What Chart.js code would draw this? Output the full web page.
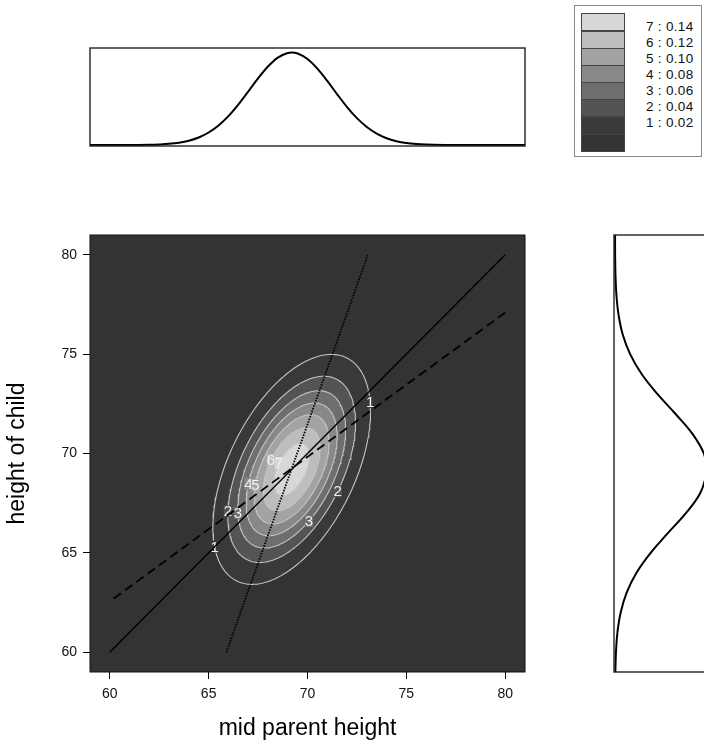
<!DOCTYPE html>
<html><head><meta charset="utf-8">
<script src="https://cdn.jsdelivr.net/npm/chart.js@4.4.1/dist/chart.umd.min.js"></script>
<style>
html,body{margin:0;padding:0;background:#fff;overflow:hidden;width:704px;height:744px;position:relative;}
canvas{position:absolute;}
#legend{position:absolute;left:574px;top:5px;width:128px;height:152px;box-sizing:border-box;border:1px solid #8a8a8a;background:#fff;font-family:'Liberation Sans',Arial,sans-serif;}
#legend .sw{position:absolute;left:6px;width:44px;box-sizing:border-box;border:1px solid #444;}
#legend .lb{position:absolute;left:71px;font-size:13.5px;letter-spacing:0.3px;color:#111;line-height:14px;white-space:nowrap;}
</style></head><body>
<canvas id="topc" width="545" height="115" style="left:0;top:40px"></canvas>
<canvas id="mainc" width="545" height="524" style="left:0;top:220px"></canvas>
<canvas id="rightc" width="120" height="456" style="left:604px;top:226px"></canvas>
<div id="legend"></div>
<script>
// ---------- data ----------
const xTicks = [60, 65, 70, 75, 80];
const yTicks = [60, 65, 70, 75, 80];
const axisMin = 59, axisMax = 81;
const xTitle = 'mid parent height';
const yTitle = 'height of child';

// bivariate normal shape (means, sds, correlation)
const meanX = 69.2, meanY = 69.2;
const sdX = 2.1, sdY = 3.05;
const rho = 0.503;

// contour levels
const levelNames = ['1', '2', '3', '4', '5', '6', '7'];
const levels = [0.02, 0.04, 0.06, 0.08, 0.10, 0.12, 0.14];
const contourHalfHeights = [5.79, 4.69, 3.96, 3.34, 2.75, 2.09, 1.32];   // vertical half extent of each contour
const labelAngles = [[0.1, 3.35], [-0.765, 3.08], [-1.243, 3.2], [2.83], [2.9], [2.385], [2.37]];
const bandColors = ['#333333', '#393939', '#545454', '#6e6e6e', '#888888', '#a3a3a3', '#bdbdbd', '#d7d7d7'];

// reference lines (x, y end points)
const identityX = [60, 80], identityY = [60, 80];
const regYonXX = [60.2, 80], regYonXY = [62.7, 77.1];
const regXonYX = [65.9, 73.05], regXonYY = [60, 80];

// marginal densities
const topX = [59,60,61,62,62.5,63,63.5,64,64.5,65,65.5,66,66.5,67,67.5,68,68.5,69,69.2,69.5,70,70.5,71,71.5,72,72.5,73,73.5,74,74.5,75,75.5,76,77,78,79,80,81];
const topDensity = [0,0,0.0001,0.0005,0.0012,0.0024,0.0048,0.0089,0.0155,0.0257,0.0403,0.0595,0.0832,0.1098,0.1370,0.1613,0.1797,0.1891,0.1900,0.1881,0.1767,0.1569,0.1317,0.1043,0.0781,0.0553,0.0371,0.0234,0.0139,0.0079,0.0042,0.0021,0.0010,0.0002,0,0,0,0];
const rightY = [59,60,61,62,63,64,65,66,67,68,69,69.2,70,71,72,73,74,75,76,77,78,79,80,81];
const rightDensity = [0.0005,0.0014,0.0035,0.0081,0.0166,0.0306,0.0507,0.0754,0.1008,0.1211,0.1305,0.1308,0.1264,0.1099,0.0858,0.0602,0.0379,0.0215,0.0109,0.0050,0.0020,0.0007,0.0002,0.0001];

// ---------- helpers ----------
const FONT = "'Liberation Sans', Arial, Helvetica, sans-serif";
const sRho = Math.sqrt(1 - rho * rho);
function contourPoint(h, t) {
  const d = h / sdY;
  return { x: meanX + d * sdX * Math.cos(t), y: meanY + h * (rho * Math.cos(t) + sRho * Math.sin(t)) };
}
function contourPath(h) {
  const pts = [];
  const n = 180;
  for (let i = 0; i <= n; i++) pts.push(contourPoint(h, 2 * Math.PI * i / n));
  return pts;
}
const pairs = (xs, ys) => xs.map((x, i) => ({ x, y: ys[i] }));

Chart.defaults.font.family = FONT;
Chart.defaults.animation = false;
Chart.defaults.events = [];
Chart.defaults.plugins.legend.display = false;
Chart.defaults.plugins.tooltip.enabled = false;

function boxPlugin(color, width) {
  return {
    id: 'box',
    afterDraw(chart) {
      const { ctx, chartArea: a } = chart;
      ctx.save();
      ctx.strokeStyle = color; ctx.lineWidth = width;
      ctx.strokeRect(a.left, a.top, a.right - a.left, a.bottom - a.top);
      ctx.restore();
    }
  };
}

// ---------- main chart ----------
const contourSets = levels.map((lv, i) => ({
  label: levelNames[i],
  data: contourPath(contourHalfHeights[i]),
  borderColor: '#c4c4c4',
  borderWidth: 1.1,
  backgroundColor: bandColors[i + 1],
  fill: 'shape',
  tension: 0,
  order: 100 - i
}));
const lineSets = [
  { label: 'identity', data: pairs(identityX, identityY), borderColor: '#000', borderWidth: 1.4, fill: false, order: 3 },
  { label: 'y on x', data: pairs(regYonXX, regYonXY), borderColor: '#000', borderWidth: 1.8, borderDash: [9, 5], fill: false, order: 2 },
  { label: 'x on y', data: pairs(regXonYX, regXonYY), borderColor: '#000', borderWidth: 1.8, borderDash: [1.5, 1.3], fill: false, order: 1 }
];

const mainDeco = {
  id: 'mainDeco',
  beforeDatasetsDraw(chart) {
    const { ctx, chartArea: a } = chart;
    ctx.save();
    ctx.fillStyle = bandColors[0];
    ctx.fillRect(a.left, a.top, a.right - a.left, a.bottom - a.top);
    ctx.restore();
  },
  afterDatasetDraw(chart, args) {
    if (args.index !== levels.length - 1) return;
    const { ctx } = chart;
    const xs = chart.scales.x, ys = chart.scales.y;
    ctx.save();
    ctx.font = '15px ' + FONT;
    ctx.textAlign = 'center';
    ctx.textBaseline = 'middle';
    levels.forEach((lv, i) => {
      labelAngles[i].forEach(t => {
        const p = contourPoint(contourHalfHeights[i], t);
        const px = xs.getPixelForValue(p.x), py = ys.getPixelForValue(p.y);
        const w = ctx.measureText(levelNames[i]).width;
        ctx.fillStyle = bandColors[i + 1];
        ctx.fillRect(px - w / 2, py - 6, w, 12);
        ctx.fillStyle = '#f2f2f2';
        ctx.fillText(levelNames[i], px, py + 1);
      });
    });
    ctx.restore();
  }
};

new Chart(document.getElementById('mainc'), {
  type: 'line',
  data: { datasets: [...contourSets, ...lineSets] },
  options: {
    responsive: false,
    layout: { padding: { top: 15, right: 20, left: 0, bottom: 0 } },
    elements: { point: { radius: 0 }, line: { capBezierPoints: false } },
    plugins: { filler: { drawTime: 'beforeDatasetDraw', propagate: false } },
    scales: {
      x: {
        type: 'linear', min: axisMin, max: axisMax,
        afterBuildTicks: s => { s.ticks = xTicks.map(v => ({ value: v })); },
        afterFit: s => { s.height = 72; },
        grid: { display: true, drawOnChartArea: false, drawTicks: true, tickLength: 7, color: '#000', tickColor: '#000', lineWidth: 1 },
        border: { display: false },
        ticks: { color: '#111', font: { size: 14 }, padding: 7, maxRotation: 0, autoSkip: false },
        title: { display: true, text: xTitle, color: '#000', font: { size: 23 }, padding: { top: 0, bottom: 2 } }
      },
      y: {
        type: 'linear', min: axisMin, max: axisMax,
        afterBuildTicks: s => { s.ticks = yTicks.map(v => ({ value: v })); },
        afterFit: s => { s.width = 90; },
        grid: { display: true, drawOnChartArea: false, drawTicks: true, tickLength: 7, color: '#000', tickColor: '#000', lineWidth: 1 },
        border: { display: false },
        ticks: { color: '#111', font: { size: 14 }, padding: 6, autoSkip: false },
        title: { display: true, text: yTitle, color: '#000', font: { size: 23 }, padding: { top: 4, bottom: 0 } }
      }
    }
  },
  plugins: [mainDeco, boxPlugin('#111', 1)]
});

// ---------- top marginal ----------
new Chart(document.getElementById('topc'), {
  type: 'line',
  data: { datasets: [{ data: pairs(topX, topDensity), borderColor: '#000', borderWidth: 2, cubicInterpolationMode: 'monotone', fill: false }] },
  options: {
    responsive: false,
    layout: { padding: { left: 90, right: 20, top: 8, bottom: 9 } },
    elements: { point: { radius: 0 } },
    scales: {
      x: { type: 'linear', display: false, min: axisMin, max: axisMax },
      y: { type: 'linear', display: false, min: -0.002, max: 0.1994 }
    }
  },
  plugins: [boxPlugin('#222', 1.4)]
});

// ---------- right marginal ----------
new Chart(document.getElementById('rightc'), {
  type: 'line',
  data: { datasets: [{ data: pairs(rightDensity, rightY), borderColor: '#000', borderWidth: 2, tension: 0.4, fill: false }] },
  options: {
    responsive: false,
    layout: { padding: { left: 10, right: 12, top: 9, bottom: 10 } },
    elements: { point: { radius: 0 } },
    scales: {
      x: { type: 'linear', display: false, min: -0.0014, max: 0.1379 },
      y: { type: 'linear', display: false, min: axisMin, max: axisMax }
    }
  },
  plugins: [boxPlugin('#222', 1.4)]
});

// ---------- legend (colour key) ----------
(function () {
  const lg = document.getElementById('legend');
  const boxH = 17.2, top0 = 7.3;
  const colors = bandColors.slice().reverse();
  colors.forEach((c, i) => {
    const d = document.createElement('div');
    d.className = 'sw';
    d.style.top = (top0 + i * boxH) + 'px';
    d.style.height = (boxH + 1) + 'px';
    d.style.background = c;
    lg.appendChild(d);
  });
  for (let k = levels.length - 1, j = 0; k >= 0; k--, j++) {
    const t = document.createElement('div');
    t.className = 'lb';
    t.style.top = (25.8 - 7 + j * 16.1 - 5) + 'px';
    t.textContent = levelNames[k] + ' : ' + levels[k].toFixed(2);
    lg.appendChild(t);
  }
})();
</script>
</body></html>
